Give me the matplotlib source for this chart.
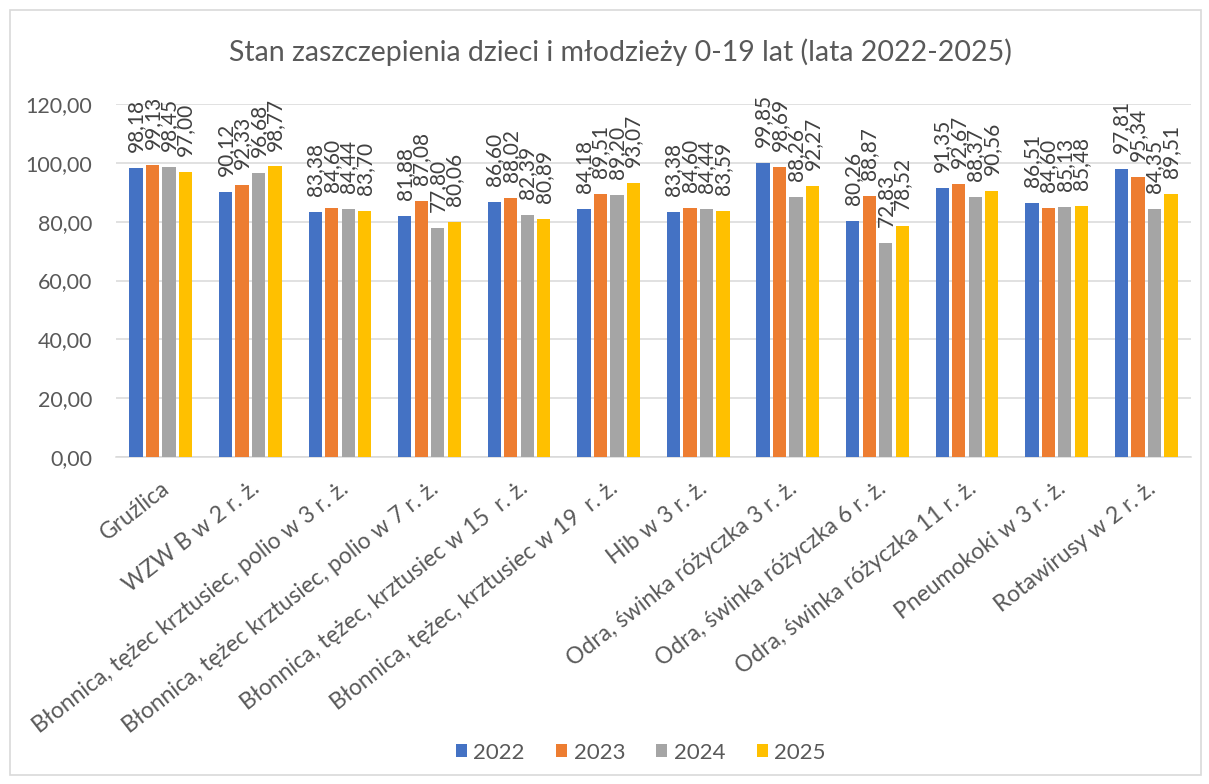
import matplotlib.pyplot as plt
import numpy as np
from matplotlib.patches import Rectangle

categories = [
    "Gruźlica",
    "WZW B w 2 r. ż.",
    "Błonnica, tężec krztusiec, polio w 3 r. ż.",
    "Błonnica, tężec krztusiec, polio w 7 r. ż.",
    "Błonnica, tężec, krztusiec w 15  r. ż.",
    "Błonnica, tężec, krztusiec w 19  r. ż.",
    "Hib w 3 r. ż.",
    "Odra, świnka różyczka 3 r. ż.",
    "Odra, świnka różyczka 6 r. ż.",
    "Odra, świnka różyczka 11 r. ż.",
    "Pneumokoki w 3 r. ż.",
    "Rotawirusy w 2 r. ż.",
]
years = ["2022", "2023", "2024", "2025"]
v2022 = [98.18, 90.12, 83.38, 81.88, 86.60, 84.18, 83.38, 99.85, 80.26, 91.35, 86.51, 97.81]
v2023 = [99.13, 92.33, 84.60, 87.08, 88.02, 89.51, 84.60, 98.69, 88.87, 92.67, 84.60, 95.34]
v2024 = [98.45, 96.68, 84.44, 77.80, 82.39, 89.20, 84.44, 88.26, 72.83, 88.37, 85.13, 84.35]
v2025 = [97.00, 98.77, 83.70, 80.06, 80.89, 93.07, 83.59, 92.27, 78.52, 90.56, 85.48, 89.51]
series = [v2022, v2023, v2024, v2025]
colors = ["#4472C4", "#ED7D31", "#A5A5A5", "#FFC000"]

TEXT = "#595959"
plt.rcParams["font.family"] = ["Lato", "DejaVu Sans"]


def fmt(v):
    return f"{v:.2f}".replace(".", ",")


fig = plt.figure(figsize=(12.09, 7.84), dpi=100)
ax = fig.add_axes([0.0959, 0.4171, 0.8892, 0.4502])

x = np.arange(len(categories))
step, width = 0.184, 0.148
for i, (vals, col, yr) in enumerate(zip(series, colors, years)):
    pos = x + (i - 1.5) * step
    bars = ax.bar(pos, vals, width=width, color=col, label=yr, zorder=3)
    # data labels sit vertically above each bar, like the Excel original
    for b, v in zip(bars, vals):
        ax.annotate(fmt(v), (b.get_x() + b.get_width() / 2, v),
                    xytext=(0, 11.5), textcoords="offset points",
                    rotation=90, ha="center", va="bottom",
                    fontsize=15, color="#404040", clip_on=False, zorder=4)

ax.set_xlim(-0.5, len(categories) - 0.5)
ax.set_ylim(0, 120)
ax.set_yticks(np.arange(0, 121, 20))
ax.set_yticklabels([fmt(t) for t in np.arange(0, 121, 20)], fontsize=15.5, color=TEXT)
ax.yaxis.grid(True, color="#D9D9D9", linewidth=1.1, zorder=0)
ax.tick_params(axis="y", length=0, pad=17)
ax.tick_params(axis="x", length=0, pad=15)
ax.set_xticks(x)
ax.set_xticklabels(categories, rotation=38, ha="right", rotation_mode="anchor",
                   fontsize=16.5, color=TEXT)
for side in ["top", "right", "left"]:
    ax.spines[side].set_visible(False)
ax.spines["bottom"].set_color("#D9D9D9")
ax.spines["bottom"].set_linewidth(1.1)

fig.text(0.5128, 0.933, "Stan zaszczepienia dzieci i młodzieży 0-19 lat (lata 2022-2025)",
         ha="center", va="center", fontsize=20.5, color=TEXT)

ax.legend(loc="center", bbox_to_anchor=(0.530, 0.040), bbox_transform=fig.transFigure,
          ncol=4, frameon=False, fontsize=16, handlelength=0.5, handleheight=0.5,
          handletextpad=0.3, columnspacing=1.4, labelcolor=TEXT)

fig.patches.append(Rectangle((0.008, 0.012), 0.985, 0.975, transform=fig.transFigure,
                             fill=False, edgecolor="#D9D9D9", linewidth=1.2))

fig.savefig("out.png", dpi=100)
